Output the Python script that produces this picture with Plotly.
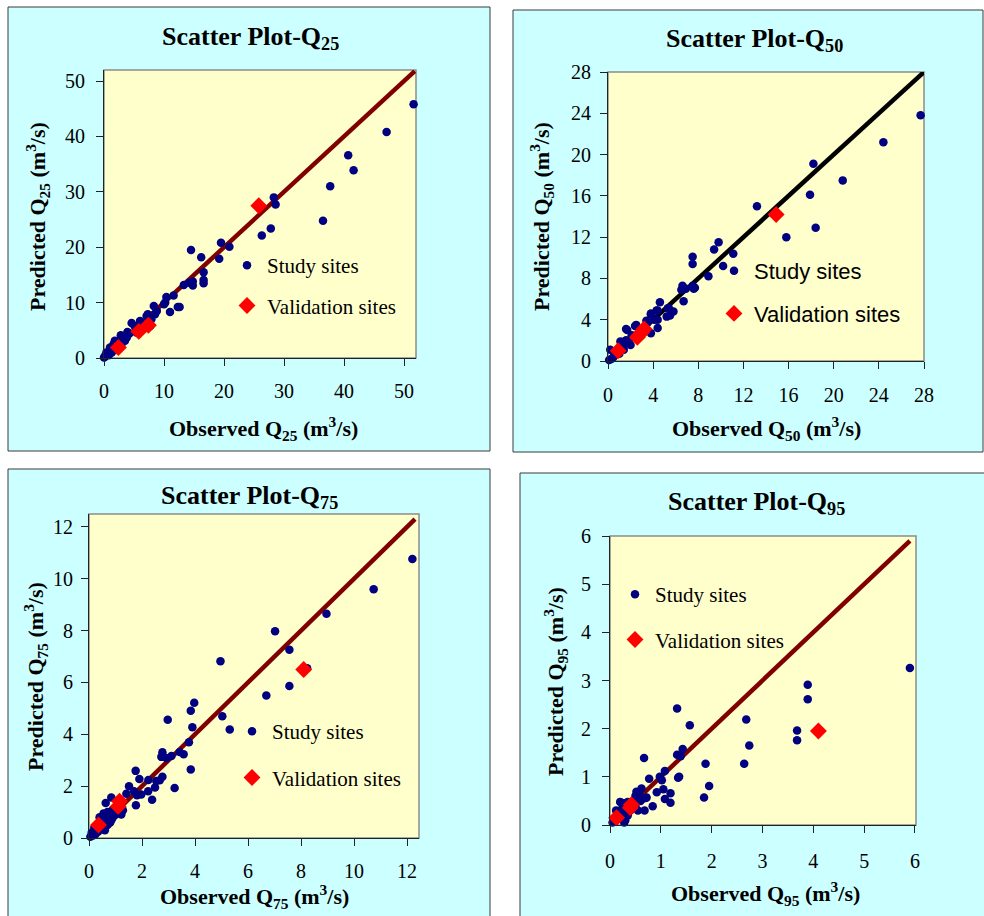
import plotly.graph_objects as go

# ---------------- data ----------------
q25_obs = [51.6, 47.1, 40.7, 41.6, 37.7, 36.5, 28.3, 28.6, 27.8, 26.3, 19.5, 20.9, 19.2, 14.5, 16.2,
           16.6, 16.6, 16.6, 14.8, 14.8, 13.3, 14.2, 11.6, 10.4, 10.0, 10.2, 11.0, 12.3, 12.6, 8.3,
           8.8, 8.5, 7.1, 7.3, 6.0, 7.9, 7.7, 5.1, 5.4, 3.9, 4.2, 3.8, 2.8, 3.5, 4.6, 5.3, 1.8, 1.6,
           2.7, 3.2, 4.1, 1.0, 1.6, 1.0, 0.4, 0.6, 0.2, 0.1, 0.0, 0.8, 1.3, 2.0, 2.9]
q25_pred = [45.8, 40.8, 36.6, 33.9, 31.0, 24.8, 29.0, 27.7, 23.4, 22.1, 20.8, 20.1, 17.9, 19.5, 18.2,
            15.5, 14.1, 13.5, 13.8, 13.1, 13.2, 13.6, 11.3, 11.0, 9.7, 10.0, 8.3, 9.2, 9.2, 9.4,
            8.5, 7.9, 7.6, 7.9, 6.7, 7.0, 5.8, 5.8, 4.6, 4.7, 4.4, 3.7, 4.1, 3.1, 6.3, 5.5, 3.1, 2.5,
            3.2, 3.8, 4.5, 1.9, 2.0, 1.4, 1.0, 0.7, 0.4, 0.2, 0.1, 0.5, 1.0, 1.6, 2.4]
q25_val_obs = [2.4, 5.8, 7.4, 25.8]
q25_val_pred = [1.9, 4.8, 5.9, 27.5]
q25_line = [0, 51.8]
q25_ticks = [0, 10, 20, 30, 40, 50]

q50_obs = [27.7, 24.4, 20.8, 18.2, 17.9, 18.4, 15.8, 13.2, 11.1, 9.8, 9.4, 10.2, 8.9, 7.5, 7.5,
           7.5, 7.7, 6.9, 6.6, 6.5, 6.7, 7.6, 5.8, 5.4, 5.3, 5.2, 5.5, 4.6, 4.3, 4.4, 4.4, 4.1,
           4.4, 3.8, 3.8, 3.4, 3.5, 3.8, 2.4, 2.5, 1.6, 1.7, 2.1, 1.6, 1.4, 1.1, 2.0, 1.4, 1.3,
           1.8, 0.8, 0.5, 0.2, 0.6, 0.1, 0.3, 1.0]
q50_pred = [23.8, 21.2, 17.5, 19.1, 16.1, 12.9, 12.0, 15.0, 10.4, 11.5, 10.8, 9.2, 8.2, 10.1, 9.4,
            7.3, 7.1, 7.0, 7.3, 6.9, 5.8, 7.0, 4.8, 5.1, 5.1, 4.3, 4.4, 5.7, 4.9, 4.9, 3.2, 4.0,
            4.0, 4.5, 4.6, 3.9, 3.7, 2.7, 3.4, 3.5, 3.1, 3.0, 2.5, 2.0, 1.55, 1.9, 1.55, 1.1, 1.3,
            1.8, 0.75, 0.4, 1.1, 0.9, 0.1, 0.2, 0.7]
q50_val_obs = [0.9, 2.6, 3.0, 3.2, 14.9]
q50_val_pred = [1.0, 2.3, 2.8, 3.1, 14.2]
q50_line = [0, 28]
q50_ticks = [0, 4, 8, 12, 16, 20, 24, 28]

q75_obs = [12.2, 10.74, 8.96, 7.02, 7.56, 8.23, 7.56, 6.69, 4.96, 5.03, 5.31, 3.97, 3.84, 3.90,
           3.77, 3.84, 2.97, 2.77, 2.73, 2.92, 3.11, 3.42, 3.57, 3.23, 2.77, 2.67, 2.54, 2.49,
           2.23, 2.38, 1.76, 1.90, 1.51, 1.41, 1.70, 1.81, 1.97, 1.77, 2.24, 0.84, 0.63, 1.28,
           1.22, 0.9, 0.8, 0.7, 0.6, 0.5, 0.4, 0.3, 0.2, 0.1, 0.05, 0.15, 0.3, 0.5, 0.6, 0.7,
           0.8, 0.9, 1.0, 0.45, 0.35, 0.25, 0.65, 0.75, 0.55, 0.85, 1.05]
q75_pred = [10.76, 9.6, 8.65, 7.98, 7.26, 6.55, 5.86, 5.5, 6.82, 4.70, 4.19, 5.22, 4.91, 4.27,
            3.69, 2.64, 4.56, 3.31, 3.13, 3.09, 3.16, 3.32, 3.23, 1.93, 2.36, 2.23, 2.20, 1.95,
            1.80, 1.48, 2.59, 2.28, 2.0, 1.71, 1.80, 1.65, 1.68, 1.26, 2.24, 1.56, 1.35, 1.07,
            0.91, 1.1, 0.9, 1.0, 0.8, 0.7, 0.8, 0.5, 0.4, 0.2, 0.05, 0.1, 0.3, 0.4, 0.3, 0.5,
            0.6, 0.8, 0.9, 0.55, 0.25, 0.15, 0.65, 0.75, 0.95, 0.7, 1.0]
q75_val_obs = [0.36, 1.10, 1.15, 8.1]
q75_val_pred = [0.5, 1.22, 1.42, 6.5]
q75_line = [0, 12.3]
q75_ticks = [0, 2, 4, 6, 8, 10, 12]

q95_obs = [5.90, 3.89, 3.89, 3.68, 3.68, 2.68, 2.74, 2.64, 1.88, 1.95, 1.85, 1.32, 1.57, 1.43,
           1.32, 1.39, 1.34, 1.36, 1.08, 0.98, 1.02, 0.67, 0.77, 1.05, 0.92, 1.19, 1.08, 1.19,
           0.84, 0.68, 0.72, 0.52, 0.62, 0.56, 0.70, 0.50, 0.20, 0.29, 0.42, 0.1, 0.05, 0.15,
           0.2, 0.25, 0.3, 0.35, 0.3, 0.4, 0.45, 0.5, 0.55, 0.6, 0.25, 0.18, 0.35, 0.28, 0.65, 0.12]
q95_pred = [3.26, 2.91, 2.61, 1.96, 1.76, 2.19, 1.65, 1.27, 1.27, 0.81, 0.57, 2.42, 2.07, 1.58,
            1.46, 1.43, 0.98, 1.0, 1.12, 1.0, 0.93, 1.39, 0.96, 0.74, 0.68, 0.66, 0.54, 0.46,
            0.39, 0.30, 0.57, 0.69, 0.76, 0.66, 0.56, 0.60, 0.48, 0.45, 0.38, 0.1, 0.05, 0.2,
            0.3, 0.35, 0.25, 0.2, 0.1, 0.3, 0.45, 0.4, 0.3, 0.5, 0.45, 0.15, 0.48, 0.05, 0.55, 0.3]
q95_val_obs = [0.13, 0.40, 0.42, 4.1]
q95_val_pred = [0.15, 0.36, 0.42, 1.95]
q95_line = [0, 5.9]
q95_ticks = [0, 1, 2, 3, 4, 5, 6]

# ---------------- layout helpers ----------------
W, H = 984, 916
SERIF = "Liberation Serif"
SANS = "Liberation Sans"


def fx(p):
    return p / W


def fy(p):
    return 1 - p / H


panels = [
    dict(q="25", obs=q25_obs, pred=q25_pred, vobs=q25_val_obs, vpred=q25_val_pred, line=q25_line,
         ticks=q25_ticks, xr=[0, 52], yr=[0, 52], plot=(104, 70, 416, 358), box=(8, 7, 490, 451),
         lc="#800000", title=(250, 38), xt=(263, 428), yt=(38, 217), leg=(249, 267), lfont=SERIF,
         lsize=21, gap=10, ltop=22, xstand=8, ystand=7),
    dict(q="50", obs=q50_obs, pred=q50_pred, vobs=q50_val_obs, vpred=q50_val_pred, line=q50_line,
         ticks=q50_ticks, xr=[0, 28], yr=[0, 28], plot=(608, 72, 924, 361), box=(513, 10, 983, 452),
         lc="#000000", title=(754, 40), xt=(766, 428), yt=(542, 217), leg=(736, 273), lfont=SANS,
         lsize=22, gap=11, ltop=23, xstand=9, ystand=5),
    dict(q="75", obs=q75_obs, pred=q75_pred, vobs=q75_val_obs, vpred=q75_val_pred, line=q75_line,
         ticks=q75_ticks, xr=[0, 12.45], yr=[0, 12.5], plot=(89, 514, 419, 838), box=(8, 469, 490, 930),
         lc="#800000", title=(249, 497), xt=(254, 896), yt=(35, 677), leg=(254, 733), lfont=SERIF,
         lsize=21, gap=16, ltop=22, xstand=8, ystand=4),
    dict(q="95", obs=q95_obs, pred=q95_pred, vobs=q95_val_obs, vpred=q95_val_pred, line=q95_line,
         ticks=q95_ticks, xr=[0, 6.02], yr=[0, 6], plot=(610, 536, 916, 825), box=(520, 473, 990, 930),
         lc="#800000", title=(756, 503), xt=(765, 893), yt=(555, 682), leg=(637, 596), lfont=SERIF,
         lsize=21, gap=15, ltop=22, xstand=11, ystand=7),
]

fig = go.Figure()
shapes = []
annotations = []
layout = dict(
    width=W, height=H, margin=dict(l=0, r=0, t=0, b=0, autoexpand=False),
    paper_bgcolor="white", plot_bgcolor="rgba(0,0,0,0)",
    showlegend=True,
)

for i, p in enumerate(panels):
    n = i + 1
    sfx = "" if n == 1 else str(n)
    xa, ya = "x" + sfx, "y" + sfx
    lg = "legend" + sfx
    x0, y0, x1, y1 = p["plot"]

    # outer cyan chart box and yellow plot area
    bx0, by0, bx1, by1 = p["box"]
    shapes.append(dict(type="rect", xref="paper", yref="paper", x0=fx(bx0), x1=fx(bx1),
                       y0=fy(by1), y1=fy(by0), fillcolor="#CCFFFF",
                       line=dict(color="#3a3a3a", width=1), layer="below"))
    shapes.append(dict(type="rect", xref="paper", yref="paper", x0=fx(x0), x1=fx(x1),
                       y0=fy(y1), y1=fy(y0), fillcolor="#FFFFCC",
                       line=dict(color="#8c8c8c", width=1.5), layer="below"))

    # 1:1 line
    fig.add_trace(go.Scatter(x=p["line"], y=p["line"], mode="lines",
                             line=dict(color=p["lc"], width=4.5), showlegend=False,
                             xaxis=xa, yaxis=ya, hoverinfo="skip"))
    fig.add_trace(go.Scatter(x=p["obs"], y=p["pred"], mode="markers", name="Study sites",
                             marker=dict(color="#000080", size=8.5, symbol="circle"),
                             xaxis=xa, yaxis=ya, legend=lg, legendgroup="s" + str(n),
                             cliponaxis=False))
    fig.add_trace(go.Scatter(x=p["vobs"], y=p["vpred"], mode="markers", name="Validation sites",
                             marker=dict(color="#FF0000", size=13, symbol="diamond"),
                             xaxis=xa, yaxis=ya, legend=lg, legendgroup="v" + str(n),
                             cliponaxis=False))

    axis_common = dict(showgrid=False, zeroline=False, showline=True, linecolor="#222",
                       linewidth=1, ticks="outside", ticklen=7, tickcolor="#222",
                       tickfont=dict(family=SERIF, size=20, color="black"),
                       tickvals=p["ticks"], fixedrange=True, automargin=False)
    layout["xaxis" + sfx] = dict(axis_common, domain=[fx(x0), fx(x1)], range=p["xr"],
                                 anchor=ya, ticklabelstandoff=p["xstand"])
    layout["yaxis" + sfx] = dict(axis_common, domain=[fy(y1), fy(y0)], range=p["yr"],
                                 anchor=xa, ticklabelstandoff=p["ystand"])

    lx, ly = p["leg"]
    layout[lg] = dict(x=fx(lx - 22), y=fy(ly - p["ltop"]), xanchor="left", yanchor="top",
                      bgcolor="rgba(0,0,0,0)", borderwidth=0, tracegroupgap=p["gap"],
                      font=dict(family=p["lfont"], size=p["lsize"], color="black"),
                      itemclick=False, itemdoubleclick=False)

    q = p["q"]
    tx, ty = p["title"]
    annotations.append(dict(xref="paper", yref="paper", x=fx(tx), y=fy(ty), showarrow=False,
                            xanchor="center", yanchor="middle",
                            text="<b>Scatter Plot-Q<sub>%s</sub></b>" % q,
                            font=dict(family=SERIF, size=26, color="black")))
    ax_, ay_ = p["xt"]
    annotations.append(dict(xref="paper", yref="paper", x=fx(ax_), y=fy(ay_), showarrow=False,
                            xanchor="center", yanchor="middle",
                            text="<b>Observed Q<sub>%s</sub> (m<sup>3</sup>/s)</b>" % q,
                            font=dict(family=SERIF, size=22, color="black")))
    yx_, yy_ = p["yt"]
    annotations.append(dict(xref="paper", yref="paper", x=fx(yx_), y=fy(yy_), showarrow=False,
                            xanchor="center", yanchor="middle", textangle=-90,
                            text="<b>Predicted Q<sub>%s</sub> (m<sup>3</sup>/s)</b>" % q,
                            font=dict(family=SERIF, size=22, color="black")))

layout["shapes"] = shapes
layout["annotations"] = annotations
fig.update_layout(**layout)
fig.write_html("out.html")
